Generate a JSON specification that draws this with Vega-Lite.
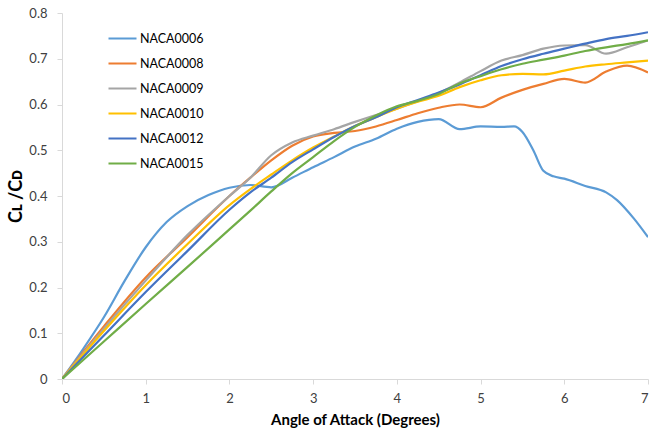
{
  "$schema": "https://vega.github.io/schema/vega-lite/v6.json",
  "width": 586,
  "height": 366,
  "autosize": {"type": "none"},
  "padding": {"left": 62, "top": 13, "right": 1, "bottom": 50},
  "background": "white",
  "config": {
    "view": {"stroke": null},
    "font": "Lato",
    "axis": {"grid": false, "domainColor": "#D9D9D9", "tickColor": "#D9D9D9", "labelColor": "#404040", "labelFont": "Lato", "labelFontSize": 13, "titleFont": "Lato", "titleColor": "#000000", "titleFontWeight": "bold"}
  },
  "datasets": {
    "curves": [
      {"alpha": 0, "ratio": 0, "airfoil": "NACA0006"},
      {"alpha": 0.25, "ratio": 0.065, "airfoil": "NACA0006"},
      {"alpha": 0.5, "ratio": 0.135, "airfoil": "NACA0006"},
      {"alpha": 0.75, "ratio": 0.215, "airfoil": "NACA0006"},
      {"alpha": 1, "ratio": 0.288, "airfoil": "NACA0006"},
      {"alpha": 1.25, "ratio": 0.343, "airfoil": "NACA0006"},
      {"alpha": 1.5, "ratio": 0.378, "airfoil": "NACA0006"},
      {"alpha": 1.75, "ratio": 0.402, "airfoil": "NACA0006"},
      {"alpha": 2, "ratio": 0.418, "airfoil": "NACA0006"},
      {"alpha": 2.25, "ratio": 0.424, "airfoil": "NACA0006"},
      {"alpha": 2.5, "ratio": 0.419, "airfoil": "NACA0006"},
      {"alpha": 2.75, "ratio": 0.44, "airfoil": "NACA0006"},
      {"alpha": 3, "ratio": 0.463, "airfoil": "NACA0006"},
      {"alpha": 3.25, "ratio": 0.485, "airfoil": "NACA0006"},
      {"alpha": 3.5, "ratio": 0.508, "airfoil": "NACA0006"},
      {"alpha": 3.75, "ratio": 0.525, "airfoil": "NACA0006"},
      {"alpha": 4, "ratio": 0.547, "airfoil": "NACA0006"},
      {"alpha": 4.25, "ratio": 0.562, "airfoil": "NACA0006"},
      {"alpha": 4.5, "ratio": 0.568, "airfoil": "NACA0006"},
      {"alpha": 4.75, "ratio": 0.546, "airfoil": "NACA0006"},
      {"alpha": 5, "ratio": 0.552, "airfoil": "NACA0006"},
      {"alpha": 5.25, "ratio": 0.551, "airfoil": "NACA0006"},
      {"alpha": 5.4, "ratio": 0.552, "airfoil": "NACA0006"},
      {"alpha": 5.5, "ratio": 0.54, "airfoil": "NACA0006"},
      {"alpha": 5.63, "ratio": 0.5, "airfoil": "NACA0006"},
      {"alpha": 5.75, "ratio": 0.455, "airfoil": "NACA0006"},
      {"alpha": 5.87, "ratio": 0.443, "airfoil": "NACA0006"},
      {"alpha": 6, "ratio": 0.438, "airfoil": "NACA0006"},
      {"alpha": 6.25, "ratio": 0.422, "airfoil": "NACA0006"},
      {"alpha": 6.5, "ratio": 0.408, "airfoil": "NACA0006"},
      {"alpha": 6.63, "ratio": 0.391, "airfoil": "NACA0006"},
      {"alpha": 6.83, "ratio": 0.351, "airfoil": "NACA0006"},
      {"alpha": 7, "ratio": 0.31, "airfoil": "NACA0006"},

      {"alpha": 0, "ratio": 0, "airfoil": "NACA0008"},
      {"alpha": 0.5, "ratio": 0.115, "airfoil": "NACA0008"},
      {"alpha": 1, "ratio": 0.222, "airfoil": "NACA0008"},
      {"alpha": 1.5, "ratio": 0.31, "airfoil": "NACA0008"},
      {"alpha": 2, "ratio": 0.4, "airfoil": "NACA0008"},
      {"alpha": 2.25, "ratio": 0.44, "airfoil": "NACA0008"},
      {"alpha": 2.5, "ratio": 0.478, "airfoil": "NACA0008"},
      {"alpha": 2.75, "ratio": 0.51, "airfoil": "NACA0008"},
      {"alpha": 3, "ratio": 0.53, "airfoil": "NACA0008"},
      {"alpha": 3.25, "ratio": 0.538, "airfoil": "NACA0008"},
      {"alpha": 3.5, "ratio": 0.542, "airfoil": "NACA0008"},
      {"alpha": 3.75, "ratio": 0.552, "airfoil": "NACA0008"},
      {"alpha": 4, "ratio": 0.566, "airfoil": "NACA0008"},
      {"alpha": 4.25, "ratio": 0.581, "airfoil": "NACA0008"},
      {"alpha": 4.5, "ratio": 0.593, "airfoil": "NACA0008"},
      {"alpha": 4.75, "ratio": 0.6, "airfoil": "NACA0008"},
      {"alpha": 5, "ratio": 0.594, "airfoil": "NACA0008"},
      {"alpha": 5.25, "ratio": 0.615, "airfoil": "NACA0008"},
      {"alpha": 5.5, "ratio": 0.632, "airfoil": "NACA0008"},
      {"alpha": 5.75, "ratio": 0.645, "airfoil": "NACA0008"},
      {"alpha": 6, "ratio": 0.656, "airfoil": "NACA0008"},
      {"alpha": 6.25, "ratio": 0.648, "airfoil": "NACA0008"},
      {"alpha": 6.5, "ratio": 0.672, "airfoil": "NACA0008"},
      {"alpha": 6.75, "ratio": 0.685, "airfoil": "NACA0008"},
      {"alpha": 7, "ratio": 0.67, "airfoil": "NACA0008"},

      {"alpha": 0, "ratio": 0, "airfoil": "NACA0009"},
      {"alpha": 0.5, "ratio": 0.11, "airfoil": "NACA0009"},
      {"alpha": 1, "ratio": 0.215, "airfoil": "NACA0009"},
      {"alpha": 1.5, "ratio": 0.315, "airfoil": "NACA0009"},
      {"alpha": 2, "ratio": 0.4, "airfoil": "NACA0009"},
      {"alpha": 2.25, "ratio": 0.44, "airfoil": "NACA0009"},
      {"alpha": 2.5, "ratio": 0.489, "airfoil": "NACA0009"},
      {"alpha": 2.75, "ratio": 0.517, "airfoil": "NACA0009"},
      {"alpha": 3, "ratio": 0.532, "airfoil": "NACA0009"},
      {"alpha": 3.25, "ratio": 0.546, "airfoil": "NACA0009"},
      {"alpha": 3.5, "ratio": 0.562, "airfoil": "NACA0009"},
      {"alpha": 3.75, "ratio": 0.577, "airfoil": "NACA0009"},
      {"alpha": 4, "ratio": 0.591, "airfoil": "NACA0009"},
      {"alpha": 4.25, "ratio": 0.607, "airfoil": "NACA0009"},
      {"alpha": 4.5, "ratio": 0.625, "airfoil": "NACA0009"},
      {"alpha": 4.75, "ratio": 0.648, "airfoil": "NACA0009"},
      {"alpha": 5, "ratio": 0.673, "airfoil": "NACA0009"},
      {"alpha": 5.25, "ratio": 0.696, "airfoil": "NACA0009"},
      {"alpha": 5.5, "ratio": 0.708, "airfoil": "NACA0009"},
      {"alpha": 5.75, "ratio": 0.722, "airfoil": "NACA0009"},
      {"alpha": 6, "ratio": 0.729, "airfoil": "NACA0009"},
      {"alpha": 6.25, "ratio": 0.73, "airfoil": "NACA0009"},
      {"alpha": 6.5, "ratio": 0.711, "airfoil": "NACA0009"},
      {"alpha": 6.75, "ratio": 0.725, "airfoil": "NACA0009"},
      {"alpha": 7, "ratio": 0.74, "airfoil": "NACA0009"},

      {"alpha": 0, "ratio": 0, "airfoil": "NACA0010"},
      {"alpha": 0.5, "ratio": 0.105, "airfoil": "NACA0010"},
      {"alpha": 1, "ratio": 0.205, "airfoil": "NACA0010"},
      {"alpha": 1.5, "ratio": 0.295, "airfoil": "NACA0010"},
      {"alpha": 2, "ratio": 0.38, "airfoil": "NACA0010"},
      {"alpha": 2.25, "ratio": 0.415, "airfoil": "NACA0010"},
      {"alpha": 2.5, "ratio": 0.447, "airfoil": "NACA0010"},
      {"alpha": 2.75, "ratio": 0.478, "airfoil": "NACA0010"},
      {"alpha": 3, "ratio": 0.506, "airfoil": "NACA0010"},
      {"alpha": 3.25, "ratio": 0.53, "airfoil": "NACA0010"},
      {"alpha": 3.5, "ratio": 0.553, "airfoil": "NACA0010"},
      {"alpha": 3.75, "ratio": 0.572, "airfoil": "NACA0010"},
      {"alpha": 4, "ratio": 0.591, "airfoil": "NACA0010"},
      {"alpha": 4.25, "ratio": 0.606, "airfoil": "NACA0010"},
      {"alpha": 4.5, "ratio": 0.619, "airfoil": "NACA0010"},
      {"alpha": 4.75, "ratio": 0.638, "airfoil": "NACA0010"},
      {"alpha": 5, "ratio": 0.653, "airfoil": "NACA0010"},
      {"alpha": 5.25, "ratio": 0.664, "airfoil": "NACA0010"},
      {"alpha": 5.5, "ratio": 0.667, "airfoil": "NACA0010"},
      {"alpha": 5.75, "ratio": 0.666, "airfoil": "NACA0010"},
      {"alpha": 6, "ratio": 0.674, "airfoil": "NACA0010"},
      {"alpha": 6.25, "ratio": 0.683, "airfoil": "NACA0010"},
      {"alpha": 6.5, "ratio": 0.688, "airfoil": "NACA0010"},
      {"alpha": 6.75, "ratio": 0.692, "airfoil": "NACA0010"},
      {"alpha": 7, "ratio": 0.696, "airfoil": "NACA0010"},

      {"alpha": 0, "ratio": 0, "airfoil": "NACA0012"},
      {"alpha": 0.5, "ratio": 0.095, "airfoil": "NACA0012"},
      {"alpha": 1, "ratio": 0.19, "airfoil": "NACA0012"},
      {"alpha": 1.5, "ratio": 0.28, "airfoil": "NACA0012"},
      {"alpha": 2, "ratio": 0.37, "airfoil": "NACA0012"},
      {"alpha": 2.25, "ratio": 0.408, "airfoil": "NACA0012"},
      {"alpha": 2.5, "ratio": 0.44, "airfoil": "NACA0012"},
      {"alpha": 2.75, "ratio": 0.474, "airfoil": "NACA0012"},
      {"alpha": 3, "ratio": 0.502, "airfoil": "NACA0012"},
      {"alpha": 3.25, "ratio": 0.529, "airfoil": "NACA0012"},
      {"alpha": 3.5, "ratio": 0.553, "airfoil": "NACA0012"},
      {"alpha": 3.75, "ratio": 0.572, "airfoil": "NACA0012"},
      {"alpha": 4, "ratio": 0.594, "airfoil": "NACA0012"},
      {"alpha": 4.25, "ratio": 0.61, "airfoil": "NACA0012"},
      {"alpha": 4.5, "ratio": 0.626, "airfoil": "NACA0012"},
      {"alpha": 4.75, "ratio": 0.644, "airfoil": "NACA0012"},
      {"alpha": 5, "ratio": 0.664, "airfoil": "NACA0012"},
      {"alpha": 5.25, "ratio": 0.684, "airfoil": "NACA0012"},
      {"alpha": 5.5, "ratio": 0.699, "airfoil": "NACA0012"},
      {"alpha": 5.75, "ratio": 0.711, "airfoil": "NACA0012"},
      {"alpha": 6, "ratio": 0.722, "airfoil": "NACA0012"},
      {"alpha": 6.25, "ratio": 0.733, "airfoil": "NACA0012"},
      {"alpha": 6.5, "ratio": 0.743, "airfoil": "NACA0012"},
      {"alpha": 6.75, "ratio": 0.75, "airfoil": "NACA0012"},
      {"alpha": 7, "ratio": 0.758, "airfoil": "NACA0012"},

      {"alpha": 0, "ratio": 0, "airfoil": "NACA0015"},
      {"alpha": 0.5, "ratio": 0.082, "airfoil": "NACA0015"},
      {"alpha": 1, "ratio": 0.164, "airfoil": "NACA0015"},
      {"alpha": 1.5, "ratio": 0.245, "airfoil": "NACA0015"},
      {"alpha": 2, "ratio": 0.327, "airfoil": "NACA0015"},
      {"alpha": 2.25, "ratio": 0.368, "airfoil": "NACA0015"},
      {"alpha": 2.5, "ratio": 0.41, "airfoil": "NACA0015"},
      {"alpha": 2.75, "ratio": 0.45, "airfoil": "NACA0015"},
      {"alpha": 3, "ratio": 0.485, "airfoil": "NACA0015"},
      {"alpha": 3.25, "ratio": 0.52, "airfoil": "NACA0015"},
      {"alpha": 3.5, "ratio": 0.551, "airfoil": "NACA0015"},
      {"alpha": 3.75, "ratio": 0.576, "airfoil": "NACA0015"},
      {"alpha": 4, "ratio": 0.596, "airfoil": "NACA0015"},
      {"alpha": 4.25, "ratio": 0.608, "airfoil": "NACA0015"},
      {"alpha": 4.5, "ratio": 0.623, "airfoil": "NACA0015"},
      {"alpha": 4.75, "ratio": 0.646, "airfoil": "NACA0015"},
      {"alpha": 5, "ratio": 0.662, "airfoil": "NACA0015"},
      {"alpha": 5.25, "ratio": 0.677, "airfoil": "NACA0015"},
      {"alpha": 5.5, "ratio": 0.689, "airfoil": "NACA0015"},
      {"alpha": 5.75, "ratio": 0.698, "airfoil": "NACA0015"},
      {"alpha": 6, "ratio": 0.707, "airfoil": "NACA0015"},
      {"alpha": 6.25, "ratio": 0.717, "airfoil": "NACA0015"},
      {"alpha": 6.5, "ratio": 0.725, "airfoil": "NACA0015"},
      {"alpha": 6.75, "ratio": 0.732, "airfoil": "NACA0015"},
      {"alpha": 7, "ratio": 0.74, "airfoil": "NACA0015"}
    ]
  },
  "data": {"name": "curves"},
  "mark": {"type": "line", "interpolate": "monotone", "strokeWidth": 2.2, "clip": true},
  "encoding": {
    "x": {
      "field": "alpha", "type": "quantitative",
      "scale": {"domain": [0, 7], "nice": false, "zero": true},
      "axis": {"title": "Angle of Attack (Degrees)", "values": [0, 1, 2, 3, 4, 5, 6, 7], "format": "d", "titleFontSize": 15, "labelPadding": 8, "tickSize": 5, "titlePadding": 7}
    },
    "y": {
      "field": "ratio", "type": "quantitative",
      "scale": {"domain": [0, 0.8], "nice": false},
      "axis": {"title": "Cʟ /Cᴅ", "values": [0, 0.1, 0.2, 0.3, 0.4, 0.5, 0.6, 0.7, 0.8], "format": "~g", "titleFontSize": 18, "labelPadding": 10, "tickSize": 5, "titlePadding": 3}
    },
    "color": {
      "field": "airfoil", "type": "nominal",
      "scale": {
        "domain": ["NACA0006", "NACA0008", "NACA0009", "NACA0010", "NACA0012", "NACA0015"],
        "range": ["#5B9BD5", "#ED7D31", "#A5A5A5", "#FFC000", "#4472C4", "#70AD47"]
      },
      "legend": {
        "title": null, "orient": "none", "legendX": 45, "legendY": 17,
        "symbolType": "stroke", "symbolSize": 784, "symbolStrokeWidth": 2.2,
        "labelFont": "Lato", "labelFontSize": 12.5, "labelColor": "#000000", "labelOffset": 2,
        "rowPadding": 8, "clipHeight": 17
      }
    }
  }
}
